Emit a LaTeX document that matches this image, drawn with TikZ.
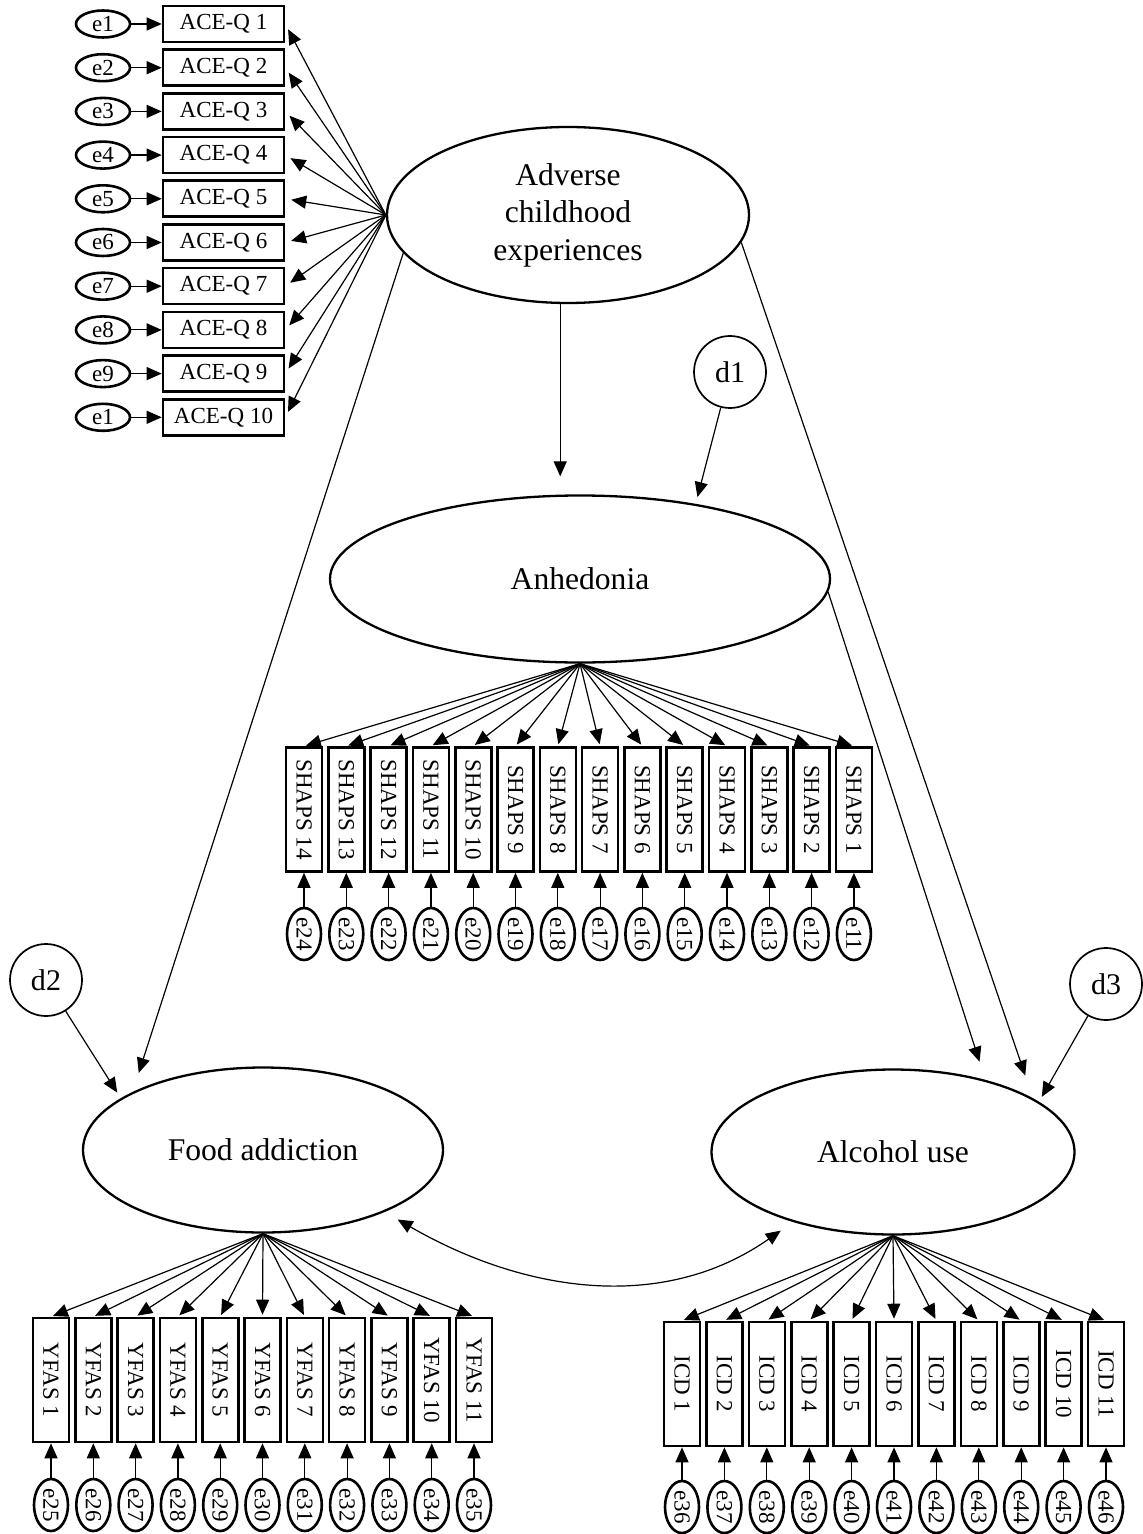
\documentclass[tikz,border=0pt]{standalone}
\usepackage{fontspec}
\setmainfont{Liberation Serif}
\usetikzlibrary{arrows.meta,shapes.geometric}

\begin{document}
\begin{tikzpicture}[x=0.5pt,y=0.5pt,>={Triangle[length=7.5pt,width=6.5pt]},
  font=\fontsize{11.5}{13}\selectfont,
  ob/.style={draw,line width=1.3pt,inner sep=0pt,minimum width=60.5pt,minimum height=18pt},
  vb/.style={ob,rotate=-90,minimum width=62pt,minimum height=18pt},
  er/.style={draw,ellipse,line width=1.3pt,inner sep=0pt,minimum width=27pt,minimum height=13.5pt},
  ve/.style={er,rotate=-90,minimum width=26pt,minimum height=17pt},
  lv/.style={draw,ellipse,line width=1.15pt,inner sep=0pt,align=center,font=\fontsize{15.8}{18.75}\selectfont},
  ds/.style={draw,circle,line width=0.85pt,inner sep=0pt,minimum size=36pt,font=\fontsize{15}{18}\selectfont},
  pa/.style={->,line width=0.6pt}]
\useasboundingbox (0,0) rectangle (1142,-1534);
% latent variables
\node[lv,minimum width=181pt,minimum height=88pt](ace) at (568,-215){Adverse\\childhood\\experiences};
\node[lv,minimum width=250pt,minimum height=83.5pt](anh) at (580,-579){Anhedonia};
\node[lv,minimum width=180pt,minimum height=82.5pt](fa) at (263,-1150){Food addiction};
\node[lv,minimum width=181.5pt,minimum height=82.5pt](au) at (893,-1152){Alcohol use};
\node[ds](d1) at (730,-372){d1};
\node[ds](d2) at (46,-980){d2};
\node[ds](d3) at (1106,-984){d3};
% ACE items
\foreach \i/\e in {1/1,2/2,3/3,4/4,5/5,6/6,7/7,8/8,9/9,10/1}{
  \node[ob](q\i) at (223.5,{-24-43.7*(\i-1)}){ACE-Q \i};
  \node[er](eq\i) at (103,{-24-43.7*(\i-1)}){e\e};
  \draw[pa](eq\i)--(q\i);
  \draw[pa,shorten >=3pt](ace.west)--(q\i.east);
}
% SHAPS items
\foreach \k in {0,...,13}{
  \pgfmathtruncatemacro\sn{14-\k}
  \pgfmathtruncatemacro\en{24-\k}
  \node[vb](s\sn) at ({304+42.3*\k},-809.5){SHAPS \sn};
  \node[ve](es\sn) at ({304+42.3*\k},-934){e\en};
  \draw[pa](es\sn)--(s\sn);
  \draw[pa,shorten >=1pt](anh.south)--(s\sn.west);
}
% YFAS items
\foreach \k in {1,...,11}{
  \pgfmathtruncatemacro\en{24+\k}
  \node[vb](y\k) at ({51+42.3*(\k-1)},-1380){YFAS \k};
  \node[ve](ey\k) at ({51+42.3*(\k-1)},-1505){e\en};
  \draw[pa](ey\k)--(y\k);
  \draw[pa,shorten >=1pt](fa.south)--(y\k.west);
}
% ICD items
\foreach \k in {1,...,11}{
  \pgfmathtruncatemacro\en{35+\k}
  \node[vb](c\k) at ({682+42.4*(\k-1)},-1384){ICD \k};
  \node[ve](ec\k) at ({682+42.4*(\k-1)},-1507){e\en};
  \draw[pa](ec\k)--(c\k);
  \draw[pa,shorten >=1pt](au.south)--(c\k.west);
}
% structural paths
\draw[pa,shorten >=9pt](ace.265)--(ace.265 |- anh.north);
\draw[pa,shorten >=3.5pt](d1)--(anh.33);
\draw[pa,shorten >=10pt](ace.193)--(fa.156);
\draw[pa,shorten >=12pt](ace.351)--(au.21);
\draw[pa,shorten >=9.5pt](anh.-3)--(au.38);
\draw[pa,shorten >=3.3pt](d2)--(fa.160);
\draw[pa,shorten >=2.8pt](d3)--(au.19);
\draw[pa,<->,shorten <=7.5pt,shorten >=7.5pt](fa.-27) to[out=-30,in=215] (au.215);
\end{tikzpicture}
\end{document}
